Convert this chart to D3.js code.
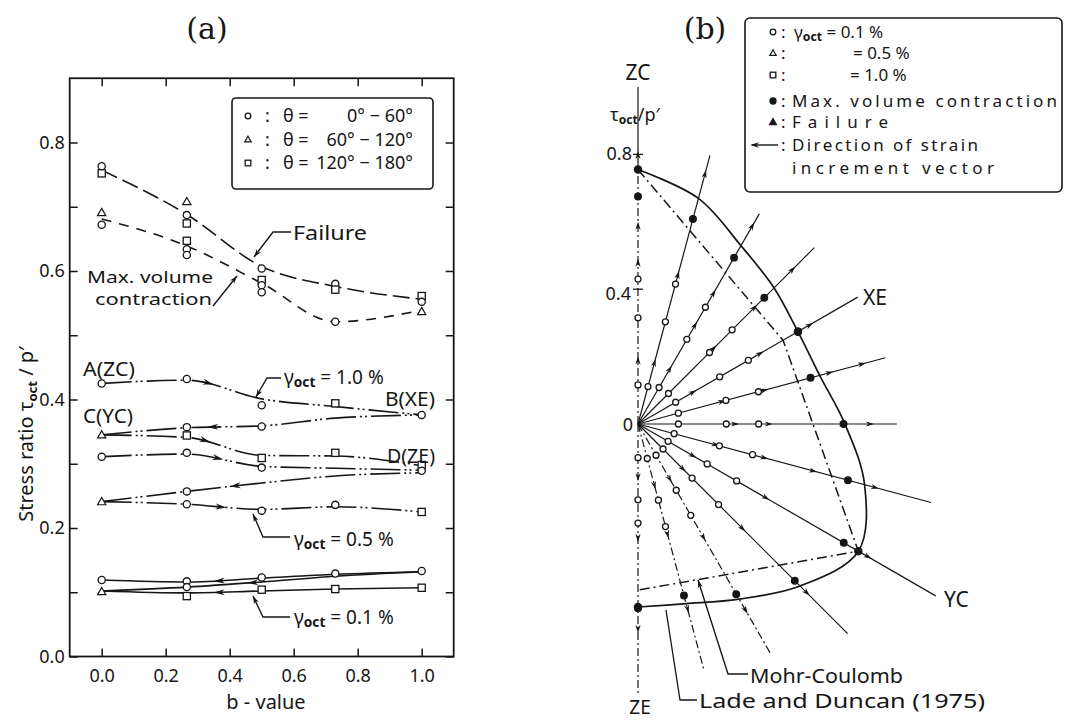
<!DOCTYPE html>
<html>
<head>
<meta charset="utf-8">
<title>Stress ratio and strain increment directions</title>
<script src="https://cdn.jsdelivr.net/npm/d3@7/dist/d3.min.js"></script>
<style>
  html, body { margin: 0; padding: 0; background: #fff; }
  svg { display: block; }
  svg text { font-family: "Noto Sans", "DejaVu Sans", sans-serif; fill: #161616; }
</style>
</head>
<body>
<svg id="fig" width="1065" height="722"></svg>
<script>
// ---------------- Panel (a): stress ratio versus b-value ----------------
const bValues = [0, 0.266, 0.5, 0.73, 1.0];
const xTickValues = [0, 0.2, 0.4, 0.6, 0.8, 1.0];
const xTickLabels = ["0.0", "0.2", "0.4", "0.6", "0.8", "1.0"];
const yTickValues = [0, 0.1, 0.2, 0.3, 0.4, 0.5, 0.6, 0.7, 0.8];
const yLabelValues = [0, 0.2, 0.4, 0.6, 0.8];
const yLabelText = ["0.0", "0.2", "0.4", "0.6", "0.8"];

// fitted curves, one value per entry of bValues
const failureCurve = [0.757, 0.688, 0.607, 0.576, 0.556];
const maxVolumeCurve = [0.681, 0.639, 0.581, 0.521, 0.539];

// measured points: [b, stress ratio, θ group]  c: 0–60°, t: 60–120°, s: 120–180°
const failurePoints = [[0,0.763,"c"],[0,0.752,"s"],[0.266,0.708,"t"],[0.266,0.687,"c"],[0.266,0.674,"s"],
  [0.5,0.604,"c"],[0.73,0.580,"c"],[0.73,0.571,"s"],[1,0.561,"s"],[1,0.552,"c"]];
const maxVolumePoints = [[0,0.691,"t"],[0,0.672,"c"],[0.266,0.647,"s"],[0.266,0.634,"c"],[0.266,0.625,"c"],
  [0.5,0.586,"s"],[0.5,0.578,"c"],[0.5,0.567,"c"],[0.73,0.521,"c"],[1,0.537,"t"]];

// strain paths (stress ratio at each b-value)
const pathAB  = [0.425, 0.430, 0.401, 0.389, 0.376];
const pathBC  = [0.345, 0.356, 0.359, 0.371, 0.376];
const pathCD  = [0.345, 0.341, 0.313, 0.312, 0.297];
const pathPD  = [0.311, 0.315, 0.296, 0.293, 0.290];
const pathDC  = [0.241, 0.257, 0.270, 0.281, 0.286];
const pathCQ  = [0.241, 0.237, 0.229, 0.233, 0.225];
const path01a = [0.119, 0.116, 0.122, 0.128, 0.132];
const path01b = [0.102, 0.108, 0.116, 0.125, 0.132];
const path01c = [0.102, 0.099, 0.102, 0.105, 0.107];

// points on the strain paths: [b, stress ratio, θ group]
const pathPoints = [
  [0,0.425,"c"],[0.266,0.432,"c"],[0.5,0.391,"c"],[0.73,0.394,"s"],[1,0.376,"c"],
  [0.266,0.357,"c"],[0.5,0.358,"c"],[0,0.345,"t"],
  [0.266,0.344,"s"],[0.5,0.309,"s"],[0.73,0.317,"s"],[1,0.298,"s"],
  [0,0.311,"c"],[0.266,0.317,"c"],[0.5,0.294,"c"],[1,0.289,"c"],
  [0.266,0.257,"c"],[0,0.241,"t"],
  [0.266,0.237,"c"],[0.5,0.227,"c"],[0.73,0.236,"c"],[1,0.225,"s"],
  [0,0.119,"c"],[0.266,0.117,"c"],[0.5,0.123,"c"],[0.73,0.129,"c"],[1,0.133,"c"],
  [0.266,0.108,"c"],[0,0.101,"t"],[0.266,0.094,"s"],[0.5,0.104,"s"],[0.73,0.105,"s"],[1,0.107,"s"]
];
// direction arrows on the strain paths: [path index, b, +1 right / -1 left]
const pathArrows = [[0,0.35,1],[1,0.33,-1],[2,0.34,1],[3,0.38,1],[4,0.40,-1],[5,0.39,1],[6,0.35,-1],[7,0.455,-1],[8,0.35,-1]];

// ---------------- Panel (b): octahedral plane ----------------
const rayAngles  = [0, 15, 30, 45, 60, 75, 90, 105, 120, 135, 150, 165, 180];
const rayLength  = [1.0, 0.825, 0.72, 0.74, 0.753, 0.76, 0.768, 0.90, 1.02, 0.88, 0.79, 0.755, 0.80];
const ladeDuncanR = [0.755, 0.693, 0.611, 0.571, 0.548, 0.558, 0.614, 0.696, 0.755, 0.680, 0.600, 0.552, 0.543];
const mohrAngles = [0, 60, 120, 180];
const mohrR      = [0.755, 0.497, 0.755, 0.493];
const gamma01R = [0.116, 0.115, 0.125, 0.128, 0.129, 0.124, 0.120, 0.111, 0.103, 0.105, 0.107, 0.106, 0.100];
const gamma05R = [0.315, 0.314, 0.290, 0.300, 0.280, 0.270, 0.262, 0.250, 0.237, 0.227, 0.227, 0.234, 0.225];
const gamma10R = [0.430, 0.430, 0.400, 0.395, 0.378, 0.370, 0.358, 0.352, 0.338, 0.338, 0.313, 0.315, 0.294];
const maxVolR  = [0.675, 0.630, 0.570, 0.530, 0.549, 0.530, 0.610, 0.645, 0.705, 0.658, 0.583, 0.527, 0.547];
const strainArrowR = [[0.2,0.49,0.6,0.81],[0.2,0.47,0.78],[0.2,0.35,0.46,0.69],[0.33,0.5,0.66],[0.2,0.43,0.6],
  [0.27,0.4,0.6,0.7],[0.3,0.4,0.62,0.7],[0.25,0.4,0.55,0.74],[0.2,0.45,0.8],[0.2,0.45,0.72],
  [0.2,0.4,0.65],[0.2,0.35,0.58],[0.17,0.35,0.62]];

// ---------------- drawing ----------------
const ink = "#161616";
const svg = d3.select("#fig");
svg.append("rect").attr("width", 1065).attr("height", 722).attr("fill", "#fff");

function txt(g, s, x, y, size, anchor, w, adjust) {
  const t = g.append("text").attr("x", x).attr("y", y).attr("font-size", size)
    .attr("text-anchor", anchor || "start").text(s);
  if (w) t.attr("textLength", w).attr("lengthAdjust", adjust || "spacingAndGlyphs");
  return t;
}
function head(g, x, y, ang, L, w) {
  L = L || 8; w = w || 2.8;
  g.append("path").attr("d", `M0,0L${-L},${-w}L${-L * 0.7},0L${-L},${w}Z`)
    .attr("transform", `translate(${x},${y}) rotate(${ang * 180 / Math.PI})`).attr("fill", ink);
}
function marker(g, x, y, shape, size, filled) {
  const fill = filled ? ink : "#fff";
  if (shape === "c") {
    g.append("circle").attr("cx", x).attr("cy", y).attr("r", size).attr("fill", fill)
      .attr("stroke", ink).attr("stroke-width", 1.3);
  } else if (shape === "s") {
    g.append("rect").attr("x", x - size).attr("y", y - size).attr("width", 2 * size).attr("height", 2 * size)
      .attr("fill", fill).attr("stroke", ink).attr("stroke-width", 1.3);
  } else {
    const h = size * 1.15;
    g.append("path").attr("d", `M${x},${y - h}L${x + h},${y + h * 0.75}L${x - h},${y + h * 0.75}Z`)
      .attr("fill", fill).attr("stroke", ink).attr("stroke-width", 1.2);
  }
}
function pointer(g, pts) {
  g.append("path").attr("d", d3.line()(pts)).attr("fill", "none").attr("stroke", ink).attr("stroke-width", 1.4);
  const a = pts[pts.length - 2], b = pts[pts.length - 1];
  head(g, b[0], b[1], Math.atan2(b[1] - a[1], b[0] - a[0]), 8, 2.6);
}
function gammaLabel(g, x, y, value, size) {
  const t = g.append("text").attr("x", x).attr("y", y).attr("font-size", size);
  t.append("tspan").text("γ");
  t.append("tspan").attr("font-size", size * 0.72).attr("font-weight", 700).attr("dy", 3).text("oct");
  t.append("tspan").attr("dy", -3).text(" = " + value + " %");
  return t;
}

// ===== Panel (a) =====
const xA = d3.scaleLinear().domain([-0.1, 1.1]).range([69.7, 453.7]);
const yA = d3.scaleLinear().domain([0, 0.9]).range([656.5, 78.25]);
const gA = svg.append("g");

txt(gA, "(a)", 207, 39, 30, "middle").style("font-family", "'DejaVu Serif', serif");

gA.append("rect").attr("x", xA(-0.1)).attr("y", yA(0.9))
  .attr("width", xA(1.1) - xA(-0.1)).attr("height", yA(0) - yA(0.9))
  .attr("fill", "none").attr("stroke", ink).attr("stroke-width", 1.8);

function styleAxis(sel) {
  sel.select(".domain").remove();
  sel.selectAll("line").attr("stroke", ink).attr("stroke-width", 1.5);
  sel.selectAll("text").attr("fill", ink).attr("font-size", 18)
    .style("font-family", "'Noto Sans', 'DejaVu Sans', sans-serif");
}
gA.append("g").attr("transform", `translate(${xA(-0.1)},0)`)
  .call(d3.axisLeft(yA).tickValues(yTickValues).tickSize(-8).tickPadding(5)
    .tickFormat(d => { const i = yLabelValues.findIndex(v => Math.abs(v - d) < 1e-9); return i < 0 ? "" : yLabelText[i]; }))
  .call(styleAxis);
gA.append("g").attr("transform", `translate(${xA(1.1)},0)`)
  .call(d3.axisRight(yA).tickValues(yTickValues).tickSize(-8).tickFormat(""))
  .call(styleAxis);
gA.append("g").attr("transform", `translate(0,${yA(0)})`)
  .call(d3.axisBottom(xA).tickValues(xTickValues).tickSize(-8).tickPadding(13)
    .tickFormat((d, i) => xTickLabels[i]))
  .call(styleAxis);
gA.append("g").attr("transform", `translate(0,${yA(0.9)})`)
  .call(d3.axisTop(xA).tickValues(xTickValues).tickSize(-8).tickFormat(""))
  .call(styleAxis);

// axis titles
txt(gA, "b - value", 266, 709, 20, "middle");
const yTitle = gA.append("text").attr("transform", "translate(33,434) rotate(-90)")
  .attr("text-anchor", "middle").attr("font-size", 20);
yTitle.append("tspan").text("Stress  ratio   τ");
yTitle.append("tspan").attr("font-size", 13).attr("dy", 4).attr("font-weight", 700).text("oct");
yTitle.append("tspan").attr("dy", -4).text(" / p′");

// legend (a)
gA.append("rect").attr("x", 232).attr("y", 98).attr("width", 201).attr("height", 91).attr("rx", 4)
  .attr("fill", "#fff").attr("stroke", ink).attr("stroke-width", 1.6);
const legA = [["c", "0° − 60°"], ["t", "60° − 120°"], ["s", "120° − 180°"]];
legA.forEach((d, i) => {
  const cy = 116 + i * 23.5;
  marker(gA, 248, cy, d[0], 2.8, false);
  txt(gA, ":", 265, cy + 6, 18);
  txt(gA, "θ =", 283, cy + 6, 18);
  txt(gA, d[1], 413, cy + 6, 18, "end");
});

const lineA = d3.line().x((d, i) => xA(bValues[i])).y(d => yA(d)).curve(d3.curveMonotoneX);

gA.append("path").attr("d", lineA(failureCurve)).attr("fill", "none").attr("stroke", ink)
  .attr("stroke-width", 1.6).attr("stroke-dasharray", "17,6");
gA.append("path").attr("d", lineA(maxVolumeCurve)).attr("fill", "none").attr("stroke", ink)
  .attr("stroke-width", 1.6).attr("stroke-dasharray", "10,8");

const strainPaths = [pathAB, pathBC, pathCD, pathPD, pathDC, pathCQ, path01a, path01b, path01c];
const pathNodes = strainPaths.map((p, i) => gA.append("path").attr("d", lineA(p)).attr("fill", "none")
  .attr("stroke", ink).attr("stroke-width", 1.6)
  .attr("stroke-dasharray", i < 6 ? "30,4,2,3,2,4" : null).node());

function pointAtX(node, x) {
  let lo = 0, hi = node.getTotalLength();
  for (let k = 0; k < 30; k++) {
    const m = (lo + hi) / 2;
    if (node.getPointAtLength(m).x < x) lo = m; else hi = m;
  }
  return node.getPointAtLength((lo + hi) / 2);
}
pathArrows.forEach(([pi, b, dir]) => {
  const p = pointAtX(pathNodes[pi], xA(b)), q = pointAtX(pathNodes[pi], xA(b) + 3);
  let ang = Math.atan2(q.y - p.y, q.x - p.x);
  if (dir < 0) ang += Math.PI;
  head(gA, p.x, p.y, ang, 11, 3);
});

[...failurePoints, ...maxVolumePoints, ...pathPoints].forEach(d => marker(gA, xA(d[0]), yA(d[1]), d[2], 3.6, false));

// annotations (a)
txt(gA, "Failure", 293, 240, 20, "start", 74);
pointer(gA, [[291, 232], [273, 232], [254, 257]]);
txt(gA, "Max. volume", 87, 283, 17, "start", 126);
txt(gA, "contraction", 95, 305, 17, "start", 117);
pointer(gA, [[213, 306], [237, 276]]);
txt(gA, "A(ZC)", 83, 376, 19, "start", 52);
txt(gA, "B(XE)", 385, 406, 19, "start", 50);
txt(gA, "C(YC)", 83, 423, 19, "start", 50);
txt(gA, "D(ZE)", 387, 463, 19, "start", 48);
gammaLabel(gA, 284, 384, "1.0", 19);
pointer(gA, [[281, 378], [267, 378], [256, 397]]);
gammaLabel(gA, 294, 546, "0.5", 19);
pointer(gA, [[290, 537], [263, 537], [253, 514]]);
gammaLabel(gA, 294, 624, "0.1", 19);
pointer(gA, [[290, 617], [263, 617], [253, 596]]);

// ===== Panel (b) =====
const gB = svg.append("g");
const O = { x: 638, y: 424 };
const rB = d3.scaleLinear().domain([0, 1]).range([0, 337]);
const rad = d => d * Math.PI / 180;
const polar = (deg, r) => [O.x + rB(r) * Math.sin(rad(deg)), O.y - rB(r) * Math.cos(rad(deg))];

txt(gB, "(b)", 705, 39, 30, "middle").style("font-family", "'DejaVu Serif', serif");

const dashedRays = new Set([0, 150, 165, 180]);
rayAngles.forEach((a, i) => {
  const end = a === 0 ? ladeDuncanR[0] : rayLength[i];
  gB.append("path").attr("d", d3.line()([polar(a, 0), polar(a, end)]))
    .attr("stroke", ink).attr("stroke-width", 1.2).attr("fill", "none")
    .attr("stroke-dasharray", dashedRays.has(a) ? "8,3,2,3" : null);
});
// solid part of the ZC axis above the failure point
gB.append("path").attr("d", d3.line()([polar(0, ladeDuncanR[0]), polar(0, rayLength[0])]))
  .attr("stroke", ink).attr("stroke-width", 1.2);
// axis ticks on ZC
[0.4, 0.8].forEach(v => {
  const [x, y] = polar(0, v);
  gB.append("line").attr("x1", x - 5).attr("x2", x + 5).attr("y1", y).attr("y2", y)
    .attr("stroke", ink).attr("stroke-width", 1.3);
});

// Lade and Duncan (solid) and Mohr-Coulomb (chain) criteria
const radial = d3.lineRadial().curve(d3.curveCatmullRom.alpha(0.5));
gB.append("path").attr("transform", `translate(${O.x},${O.y})`)
  .attr("d", radial(rayAngles.map((a, i) => [rad(a), rB(ladeDuncanR[i])])))
  .attr("fill", "none").attr("stroke", ink).attr("stroke-width", 1.7);
gB.append("path").attr("transform", `translate(${O.x},${O.y})`)
  .attr("d", d3.lineRadial()(mohrAngles.map((a, i) => [rad(a), rB(mohrR[i])])))
  .attr("fill", "none").attr("stroke", ink).attr("stroke-width", 1.5).attr("stroke-dasharray", "10,4,2,4");

// strain increment arrows and markers along each direction
rayAngles.forEach((a, i) => {
  const ang = rad(a) - Math.PI / 2;
  strainArrowR[i].forEach(r => { const [x, y] = polar(a, r); head(gB, x, y, ang, 8, 2.6); });
  [gamma01R[i], gamma05R[i], gamma10R[i]].forEach(r => { const [x, y] = polar(a, r); marker(gB, x, y, "c", 3, false); });
  const [mx, my] = polar(a, maxVolR[i]);
  marker(gB, mx, my, "c", 3.3, true);
});
[0, 60, 120, 180].forEach(a => {
  const i = rayAngles.indexOf(a);
  const [x, y] = polar(a, ladeDuncanR[i]);
  marker(gB, x, y, "c", 3.6, true);
});

// labels (b)
txt(gB, "ZC", 638, 80, 21, "middle");
const tl = gB.append("text").attr("x", 610).attr("y", 121).attr("font-size", 18);
tl.append("tspan").text("τ");
tl.append("tspan").attr("font-size", 12).attr("font-weight", 700).attr("dy", 3).text("oct");
tl.append("tspan").attr("dy", -3).text("/p′");
txt(gB, "0.8", 632, 160, 18, "end");
txt(gB, "0.4", 631, 300, 18, "end");
txt(gB, "0", 633, 431, 18, "end");
txt(gB, "XE", 863, 305, 21, "start");
txt(gB, "YC", 944, 607, 21, "start");
txt(gB, "ZE", 640, 714, 19, "middle");
txt(gB, "Mohr-Coulomb", 750, 683, 20, "start", 153);
pointer(gB, [[748, 674], [728, 674], [698, 580]]);
txt(gB, "Lade and Duncan (1975)", 699, 708, 19, "start", 286);
gB.append("path").attr("d", d3.line()([[697, 700], [680, 700], [666, 610]]))
  .attr("fill", "none").attr("stroke", ink).attr("stroke-width", 1.3);

// legend (b)
gB.append("rect").attr("x", 745).attr("y", 18).attr("width", 317).attr("height", 174).attr("rx", 5)
  .attr("fill", "#fff").attr("stroke", ink).attr("stroke-width", 1.6);
marker(gB, 773, 32, "c", 2.8, false);
marker(gB, 773, 53, "t", 2.8, false);
marker(gB, 773, 75, "s", 2.8, false);
marker(gB, 773, 101, "c", 3, true);
marker(gB, 773, 122, "t", 3, true);
[32, 53, 75, 101, 122, 145].forEach(y => txt(gB, ":", 781, y + 6, 17));
gammaLabel(gB, 794, 38, "0.1", 17);
txt(gB, "= 0.5 %", 853, 59, 17);
txt(gB, "= 1.0 %", 850, 81, 17);
txt(gB, "Max. volume contraction", 792, 107, 17, "start", 265, "spacing");
txt(gB, "Failure", 792, 128, 17, "start", 96, "spacing");
gB.append("line").attr("x1", 752).attr("x2", 778).attr("y1", 145).attr("y2", 145)
  .attr("stroke", ink).attr("stroke-width", 1.4);
head(gB, 750, 145, Math.PI, 9, 2.8);
txt(gB, "Direction  of  strain", 792, 151, 17, "start", 186, "spacing");
txt(gB, "increment  vector", 792, 174, 17, "start", 202, "spacing");
</script>
</body>
</html>
